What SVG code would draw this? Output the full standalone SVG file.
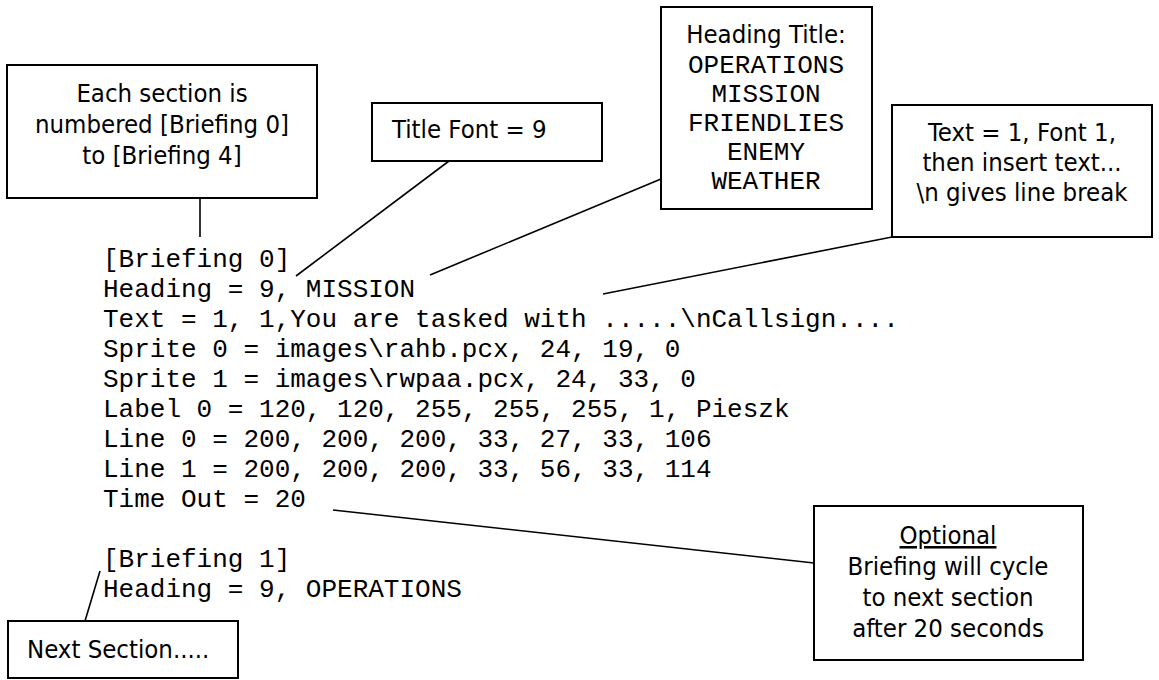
<svg xmlns="http://www.w3.org/2000/svg" width="1159" height="680" viewBox="0 0 1159 680">
  <style>
    .box { fill: #ffffff; stroke: #000000; stroke-width: 2; }
    .conn { fill: none; stroke: #000000; stroke-width: 1.6; }
    .note { font-family: "DejaVu Sans Condensed", "DejaVu Sans", sans-serif; font-stretch: condensed; font-size: 25.5px; fill: #000000; }
    .mid { text-anchor: middle; }
    .code { font-family: "Liberation Mono", "Courier New", monospace; font-size: 26px; fill: #000000; white-space: pre; }
  </style>
  <rect width="1159" height="680" fill="#ffffff"/>

  <!-- connectors from the callout boxes to the script lines -->
  <g id="connectors">
    <line class="conn" x1="200" y1="198" x2="200" y2="237"/>
    <line class="conn" x1="449" y1="161" x2="296" y2="276"/>
    <line class="conn" x1="661" y1="179" x2="430" y2="275"/>
    <line class="conn" x1="892" y1="237" x2="603" y2="294"/>
    <line class="conn" x1="333" y1="510" x2="814" y2="563"/>
    <line class="conn" x1="85" y1="621" x2="100" y2="571"/>
  </g>

  <!-- briefing script listing -->
  <g id="script" class="code">
    <text x="103" y="267">[Briefing 0]</text>
    <text x="103" y="297">Heading = 9, MISSION</text>
    <text x="103" y="327">Text = 1, 1,You are tasked with .....\nCallsign....</text>
    <text x="103" y="357">Sprite 0 = images\rahb.pcx, 24, 19, 0</text>
    <text x="103" y="387">Sprite 1 = images\rwpaa.pcx, 24, 33, 0</text>
    <text x="103" y="417">Label 0 = 120, 120, 255, 255, 255, 1, Pieszk</text>
    <text x="103" y="447">Line 0 = 200, 200, 200, 33, 27, 33, 106</text>
    <text x="103" y="477">Line 1 = 200, 200, 200, 33, 56, 33, 114</text>
    <text x="103" y="507">Time Out = 20</text>
    <text x="103" y="567">[Briefing 1]</text>
    <text x="103" y="597">Heading = 9, OPERATIONS</text>
  </g>

  <g id="node-sections">
    <rect class="box" x="7" y="65" width="310" height="133"/>
    <text class="note mid" x="162" y="102">Each section is</text>
    <text class="note mid" x="162" y="133">numbered [Briefing 0]</text>
    <text class="note mid" x="162" y="164">to [Briefing 4]</text>
  </g>

  <g id="node-title-font">
    <rect class="box" x="372" y="103" width="230" height="58"/>
    <text class="note" x="392" y="138">Title Font = 9</text>
  </g>

  <g id="node-heading-title">
    <rect class="box" x="661" y="7" width="211" height="202"/>
    <text class="note mid" x="766" y="43">Heading Title:</text>
    <text class="code mid" x="766" y="73">OPERATIONS</text>
    <text class="code mid" x="766" y="102">MISSION</text>
    <text class="code mid" x="766" y="131">FRIENDLIES</text>
    <text class="code mid" x="766" y="160">ENEMY</text>
    <text class="code mid" x="766" y="189">WEATHER</text>
  </g>

  <g id="node-text">
    <rect class="box" x="892" y="105" width="260" height="132"/>
    <text class="note mid" x="1022" y="141">Text = 1, Font 1,</text>
    <text class="note mid" x="1022" y="171">then insert text...</text>
    <text class="note mid" x="1022" y="201">\n gives line break</text>
  </g>

  <g id="node-timeout">
    <rect class="box" x="814" y="506" width="269" height="154"/>
    <text class="note mid" x="948" y="544" text-decoration="underline">Optional</text>
    <text class="note mid" x="948" y="575">Briefing will cycle</text>
    <text class="note mid" x="948" y="606">to next section</text>
    <text class="note mid" x="948" y="637">after 20 seconds</text>
  </g>

  <g id="node-next">
    <rect class="box" x="8" y="621" width="230" height="57"/>
    <text class="note" x="27" y="658">Next Section.....</text>
  </g>
</svg>
